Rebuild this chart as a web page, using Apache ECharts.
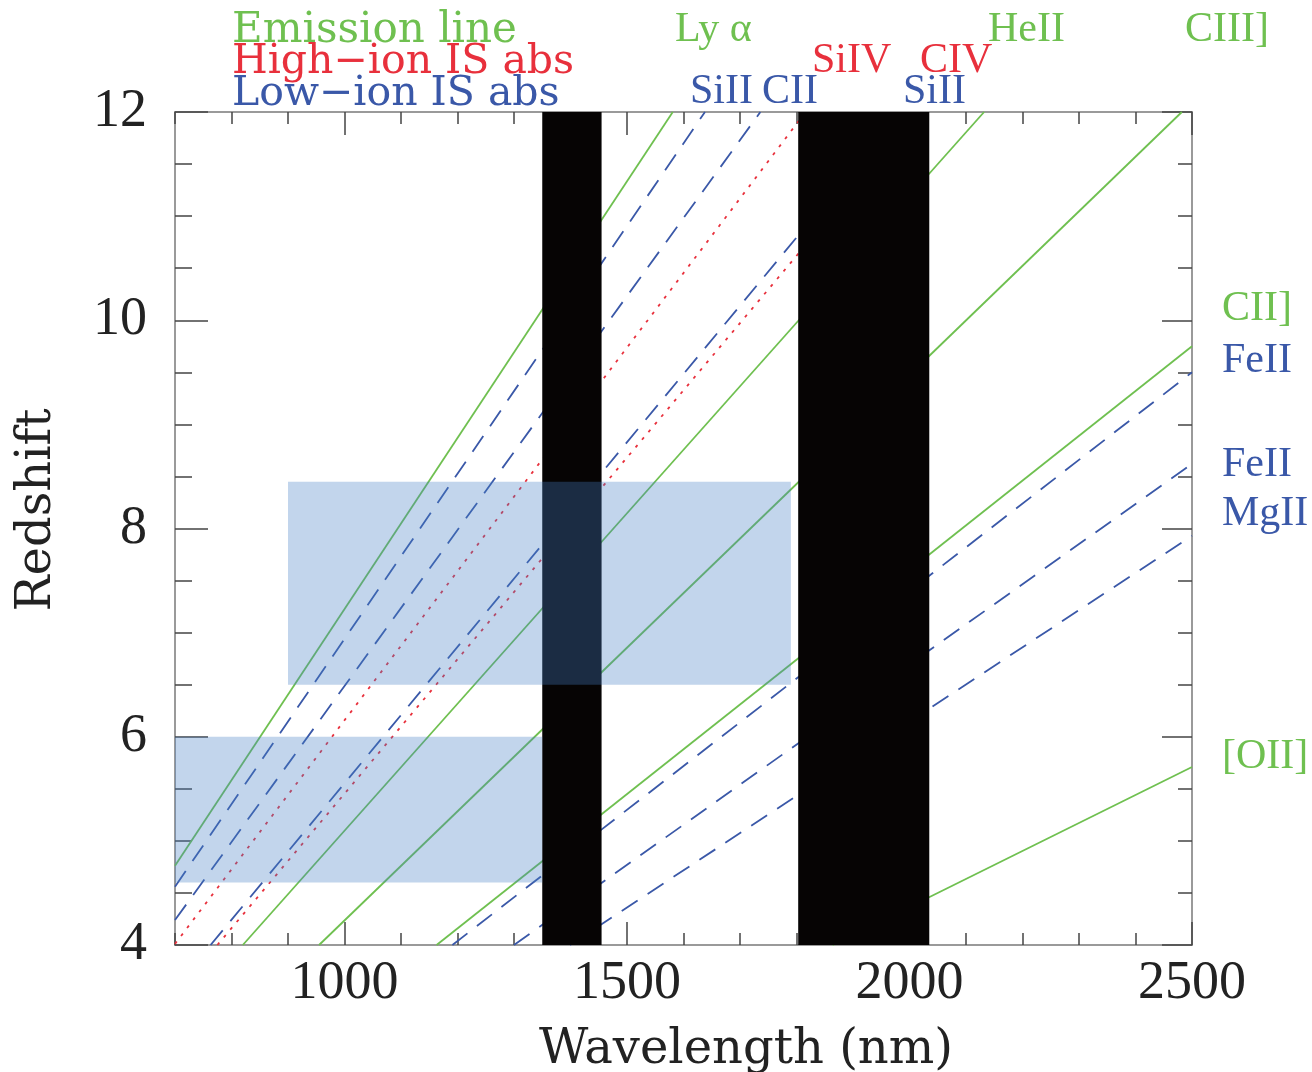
<!DOCTYPE html>
<html>
<head>
<meta charset="utf-8">
<title>Redshift vs observed wavelength</title>
<script src="https://cdn.jsdelivr.net/npm/echarts@6/dist/echarts.min.js"></script>
<style>
  html, body { margin: 0; padding: 0; background: #fff; }
  #chart { width: 1312px; height: 1072px; }
</style>
</head>
<body>
<div id="chart"></div>
<script>
// end points [wavelength (nm), redshift] of each line
// emission lines
const lyaLine = [[700, 4.76], [1581, 12]];
const heIILine = [[820, 4], [2132, 12]];
const ciiiLine = [[955, 4], [2482, 12]];
const ciiLine = [[1163, 4], [2500, 9.75]];
const oiiLine = [[1864, 4], [2500, 5.71]];
// high-ion IS absorption
const siIVLine = [[700, 4.01], [1816, 12]];
const cIVLine = [[775, 4], [2014, 12]];
// low-ion IS absorption
const siII1260Line = [[700, 4.56], [1638, 12]];
const cII1335Line = [[700, 4.24], [1736, 12]];
const siII1526Line = [[763, 4], [1984, 12]];
const feII2382Line = [[1191, 4], [2500, 9.5]];
const feII2600Line = [[1300, 4], [2500, 8.62]];
const mgIILine = [[1399, 4], [2500, 7.93]];

// black bands [from, to] in nm
const blockedBands = [[1350, 1455], [1803, 2035]];
// shaded boxes [x0, x1, z0, z1]
const searchBoxes = [[700, 1350, 4.6, 6.0], [900, 1790, 6.5, 8.45]];

const xMajorTicks = [1000, 1500, 2000, 2500];

const GREEN = '#6fc050';
const RED = '#e8303c';
const BLUE = '#3a58a8';
const SERIF = '"Liberation Serif", serif';
const WIDE = '"DejaVu Serif", serif';

const chart = echarts.init(document.getElementById('chart'));

function lineSeries(name, data, color, dash) {
  return {
    name: name,
    type: 'line',
    data: data,
    xAxisIndex: 0,
    yAxisIndex: 0,
    symbol: 'none',
    clip: true,
    silent: true,
    z: 2,
    lineStyle: { color: color, width: 1.8, type: dash }
  };
}

function txt(text, x, y, color, size, family) {
  return {
    type: 'text',
    x: x,
    y: y,
    silent: true,
    z: 20,
    style: {
      text: text,
      fill: color,
      fontSize: size,
      fontFamily: family || SERIF,
      align: 'left',
      verticalAlign: 'middle',
      textAlign: 'left',
      textVerticalAlign: 'middle'
    }
  };
}

const frame = { show: true, onZero: false, lineStyle: { color: '#9a9a9a', width: 2 } };
const tickColor = '#444';

const option = {
  animation: false,
  backgroundColor: '#fff',
  grid: { left: 175, right: 120, top: 112, bottom: 127 },
  xAxis: [
    {
      type: 'value', min: 700, max: 2500, interval: 100, position: 'bottom',
      axisLine: frame,
      axisTick: { inside: true, length: 12, lineStyle: { color: tickColor, width: 1.5 } },
      axisLabel: { show: false }, splitLine: { show: false }
    },
    {
      type: 'value', min: 700, max: 2500, position: 'bottom',
      axisLine: frame,
      axisTick: { inside: true, length: 23, customValues: xMajorTicks, lineStyle: { color: tickColor, width: 1.5 } },
      axisLabel: {
        customValues: xMajorTicks, fontFamily: SERIF, fontSize: 54, color: '#222', margin: 12,
        formatter: function (v) { return String(v); }
      },
      splitLine: { show: false }
    },
    {
      type: 'value', min: 700, max: 2500, interval: 100, position: 'top',
      axisLine: frame,
      axisTick: { inside: true, length: 12, lineStyle: { color: tickColor, width: 1.5 } },
      axisLabel: { show: false }, splitLine: { show: false }
    },
    {
      type: 'value', min: 700, max: 2500, position: 'top',
      axisLine: frame,
      axisTick: { inside: true, length: 23, customValues: xMajorTicks, lineStyle: { color: tickColor, width: 1.5 } },
      axisLabel: { show: false }, splitLine: { show: false }
    }
  ],
  yAxis: [
    {
      type: 'value', min: 4, max: 12, interval: 2, position: 'left',
      axisLine: frame,
      axisTick: { inside: true, length: 33, lineStyle: { color: tickColor, width: 1.5 } },
      minorTick: { show: true, splitNumber: 4, length: 17, lineStyle: { color: tickColor, width: 1.5 } },
      axisLabel: { fontFamily: SERIF, fontSize: 54, color: '#222', margin: 28 },
      splitLine: { show: false }, minorSplitLine: { show: false }
    },
    {
      type: 'value', min: 4, max: 12, interval: 2, position: 'right',
      axisLine: frame,
      axisTick: { inside: true, length: 30, lineStyle: { color: tickColor, width: 1.5 } },
      minorTick: { show: true, splitNumber: 4, length: 14, lineStyle: { color: tickColor, width: 1.5 } },
      axisLabel: { show: false },
      splitLine: { show: false }, minorSplitLine: { show: false }
    }
  ],
  series: [
    lineSeries('Lyα', lyaLine, GREEN, 'solid'),
    lineSeries('HeII', heIILine, GREEN, 'solid'),
    lineSeries('CIII]', ciiiLine, GREEN, 'solid'),
    lineSeries('CII]', ciiLine, GREEN, 'solid'),
    lineSeries('[OII]', oiiLine, GREEN, 'solid'),
    lineSeries('SiIV', siIVLine, RED, [3, 7]),
    lineSeries('CIV', cIVLine, RED, [3, 7]),
    lineSeries('SiII 1260', siII1260Line, BLUE, [19, 12]),
    lineSeries('CII 1335', cII1335Line, BLUE, [19, 12]),
    lineSeries('SiII 1526', siII1526Line, BLUE, [19, 12]),
    lineSeries('FeII 2382', feII2382Line, BLUE, [19, 12]),
    lineSeries('FeII 2600', feII2600Line, BLUE, [19, 12]),
    lineSeries('MgII', mgIILine, BLUE, [19, 12]),
    {
      name: 'bands',
      type: 'custom',
      xAxisIndex: 0,
      yAxisIndex: 0,
      z: 5,
      silent: true,
      data: blockedBands,
      encode: { x: [0, 1] },
      renderItem: function (params, api) {
        const p0 = api.coord([api.value(0), 12]);
        const p1 = api.coord([api.value(1), 4]);
        return {
          type: 'rect',
          shape: { x: p0[0], y: p0[1], width: p1[0] - p0[0], height: p1[1] - p0[1] },
          style: { fill: '#060404' }
        };
      }
    },
    {
      name: 'boxes',
      type: 'custom',
      xAxisIndex: 0,
      yAxisIndex: 0,
      z: 6,
      silent: true,
      data: searchBoxes,
      encode: { x: [0, 1], y: [2, 3] },
      renderItem: function (params, api) {
        const p0 = api.coord([api.value(0), api.value(3)]);
        const p1 = api.coord([api.value(1), api.value(2)]);
        return {
          type: 'rect',
          shape: { x: p0[0], y: p0[1], width: p1[0] - p0[0], height: p1[1] - p0[1] },
          style: { fill: 'rgba(71,126,197,0.33)' }
        };
      }
    }
  ],
  graphic: {
    elements: [
      txt('Emission line', 232, 31, GREEN, 42, WIDE),
      txt('High\u2212ion IS abs', 232, 62, RED, 41, WIDE),
      txt('Low\u2212ion IS abs', 232, 94, BLUE, 41, WIDE),
      txt('Ly \u03b1', 675, 30, GREEN, 42),
      txt('HeII', 988, 30, GREEN, 42),
      txt('CIII]', 1185, 30, GREEN, 42),
      txt('SiIV', 812, 61, RED, 42),
      txt('CIV', 920, 61, RED, 42),
      txt('SiII', 690, 92, BLUE, 42),
      txt('CII', 762, 92, BLUE, 42),
      txt('SiII', 903, 92, BLUE, 42),
      txt('CII]', 1222, 309, GREEN, 42),
      txt('FeII', 1222, 361, BLUE, 42),
      txt('FeII', 1222, 465, BLUE, 42),
      txt('MgII', 1222, 514, BLUE, 42),
      txt('[OII]', 1222, 757, GREEN, 42),
      {
        type: 'text', x: 746, y: 1051, silent: true,
        style: { text: 'Wavelength (nm)', fill: '#222', fontSize: 48, fontFamily: WIDE,
          align: 'center', verticalAlign: 'middle', textAlign: 'center', textVerticalAlign: 'middle' }
      },
      {
        type: 'text', x: 38, y: 510, rotation: Math.PI / 2, silent: true,
        style: { text: 'Redshift', fill: '#222', fontSize: 48, fontFamily: WIDE,
          align: 'center', verticalAlign: 'middle', textAlign: 'center', textVerticalAlign: 'middle' }
      }
    ]
  }
};

chart.setOption(option);
</script>
</body>
</html>
